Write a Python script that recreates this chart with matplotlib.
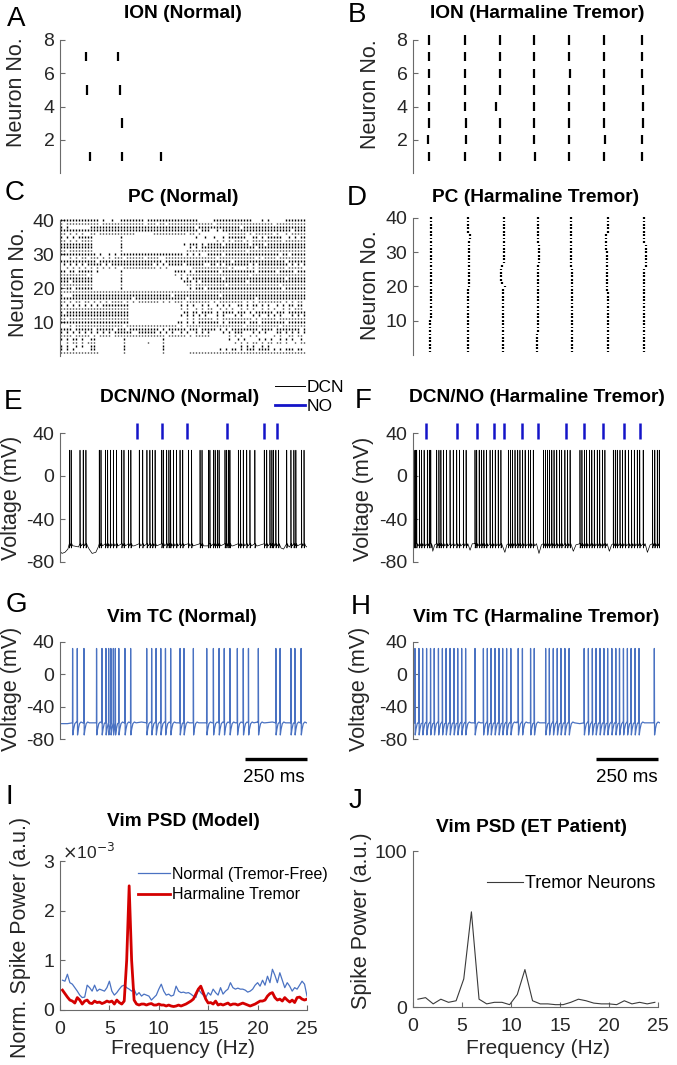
import numpy as np
import matplotlib
matplotlib.use("Agg")
import matplotlib.pyplot as plt
from matplotlib.lines import Line2D

plt.rcParams['font.family'] = ['Liberation Sans', 'DejaVu Sans']
plt.rcParams['axes.unicode_minus'] = False

# ---------------- data (times in ms) ----------------
# A: ION normal, spike times per neuron
A_NEURONS = [7, 5, 3, 1]
A_SPIKES = [[105, 236], [108, 243], [250], [121, 252, 408]]

# B: ION harmaline, neurons 1..8
B_SPIKES = [
    [63, 209, 354, 493, 633, 775, 928],
    [61, 215, 352, 490, 633, 779, 928],
    [66, 216, 354, 491, 633, 775, 931],
    [63, 212, 336, 491, 630, 775, 931],
    [66, 209, 352, 491, 633, 775, 931],
    [66, 212, 352, 491, 636, 775, 928],
    [63, 211, 352, 491, 633, 775, 928],
    [66, 212, 354, 491, 633, 775, 928],
]

# C: PC normal raster, one string per neuron (40 at top), '#' = spike in a 12 ms bin
C_T0, C_DT = 4, 12.15
C_ROWS = [
    "##########" "###.#..#.." "########.#" "##########" "######...." ".#########" "####...#.#" ".....#####" "##",
    "#.########" "###.######" "########.#" "##.##.####" "##########" "#.########" "##########" "#.########" "##",
    "#.#......." "##########" "##########" "##########" "#####.####" "##########" ".#########" "##########" "##",
    "##########" "##########" "##########" "##########" "######.###" "..#.######" "##########" "#######.##" "##",
    "##.#.#.#.." "##.#######" "#####....." ".#########" "##.##.#..." "......####" "##.#.#####" "#.#..#.###" "##",
    "#.#.#.####" "#........." "#........." ".........." ".....#..#." ".#..#.####" "##..##.#.#" "####..#.#." "##",
    "##.#.#.###" "#........." "#........." ".........." ".........." "..#.#.#.##" "#.#.######" "####.#####" "##",
    "##########" "#........." "#........." ".........." ".#.###.#.#" "####.#####" "###.####.#" "##########" "##",
    "##########" "#........." "#........." ".........." "...#.#.###" "##########" "#####.####" "##########" "##",
    "##.#######" "#........." "#........." ".........." "..########" "##########" "##.#######" "##########" "##",
    "##########" "##.#..#.#." "##########" "##########" "#.#.#.#..#" "####.#####" "##########" "###.##.###" "##",
    "...#.#.##." "###.#.#.##" "#.######.#" "###..#####" "##########" "##.#######" "#####.#.##" "##.#######" "##",
    "##########" "##.#######" "##########" "####.#####" "##########" "#######.##" "##########" "#####.####" "##",
    ".#.#.#.#.#" "####.#.###" "##########" "#.#.#.####" "#.######.." "##.#.#####" "###.#.####" "######.#.#" ".#",
    "..#.#.#.#." "#.#.#.#.#." ".#########" "##.#.#...." "....######" "######.#.." "..#.#.####" "#####.####" "#.",
    "##.##.####" "#.#......." "#........." "........##" "##.#.#####" "###.######" "#####.####" "##.#####.#" "##",
    "#########." "#........." "#........." "........#." "#.########" "##########" "###.######" "##########" "##",
    "##########" "#........." "#........." ".........." "#.#.######" "####.#####" "##########" "#####.####" "##",
    "###.######" "#........." "#........." ".........." ".###.#.###" "##########" "##.#######" "##########" "##",
    "##########" "#........." "#........." ".........." "..##.#####" "#####.####" "##########" "###.######" "##",
    "#.##.#####" "#........." "#........." ".........." "...#.###.#" "##########" "##########" "####.#####" "##",
    "##########" "##########" "##########" "##########" "##########" "##########" "##########" "##########" "##",
    "#...######" "##########" "##########" "#######.##" "##########" "###.######" "##########" "##########" "##",
    "##########" "##########" "####.#####" "##########" "##.#######" "##########" "#####.####" "##########" "##",
    "##.#.##.##" ".#.#.#.###" "#.#.#.####" "###.#.#.##" "#.########" ".#.#######" "#.#.#.####" "####.#.#.#" "#.",
    "#.#.#.#.#." "#.#.######" "###......." ".........." "#.#.#..#.#" "..#.#.#..#" "#.#.##.#.#" "..#.#.##.#" "#.",
    "##########" "##########" "###......." ".........." "#.#..#.#.#" "#..#.#.#.." "#.#.#..#.#" ".#..#.#.##" "#.",
    "#.########" "##########" "###......." ".........." ".##.##.###" "#.#.####.#" "##.#.#####" "#.###.####" "##",
    "##########" "##########" "###......." ".........." "#.#.#.#.#." "..#.#...#." "#...#.#..#" ".#.#...#.#" ".#",
    "##.#######" "##########" "###......." ".........." "..#.#.####" "#.#.######" "####.#.###" "##.#######" "##",
    "##########" "##########" "###......." ".........#" "#.#.#.####" "###.#.####" "##.###.###" "#####.####" "##",
    "...#.#####" "##########" "#.########" "#########." "#.########" "##########" "#.########" "###.######" "##",
    "####.#####" "#.######.#" "##.#######" "###.#.####" "##.###.###" "##.#.#.###" "######.###" "#.########" ".#",
    "#.#.#.#.#." "#.#.#.#.##" "####..####" "##.#.#.#.." "#.#..#.#.#" "....#.#.##" "#...#.#.#." "..##.#.#.#" ".#",
    "####.#####" ".#.####.##" "##########" "#####.####" "##.#.#####" "......#.#." "#..#.#...." ".#.#..##.#" "#.",
    "#.#.##.#.." "##........" ".#........" "....#....." ".........." "......#..#" ".#....#.#." "#..#.#.#.." "#.",
    "..#.##.#.#" "##........" ".#.......#" "....#....." ".........." "........#." "#.#.##.#.#" "#.##.#..#." "##",
    "#.#..#.#.." "##........" ".#........" "....#....." ".........." ".........." "#.#.#..#.#" ".........." "..",
    "#.#.#....." "##........" ".#........" "....#....." ".........." "...#.#.##." "#.###.####" ".#.#.###.#" "#.",
    "##########" "###......." ".#........" "....#....." "...#######" "##########" "##########" "##########" "##",
]

# D: PC harmaline, 7 synchronous volleys; (first neuron, last neuron, spike time)
D_VOLLEYS = [
    [(1, 10, 69), (11, 20, 71), (21, 30, 73), (31, 40, 71)],
    [(1, 19, 221), (20, 33, 225), (34, 35, 231), (36, 40, 223)],
    [(1, 19, 365), (20, 20, 372), (21, 21, 360), (22, 25, 355), (26, 26, 361), (27, 40, 368)],
    [(1, 6, 500), (7, 26, 507), (27, 32, 511), (33, 40, 507)],
    [(1, 25, 645), (26, 40, 640)],
    [(1, 18, 788), (19, 30, 785), (31, 35, 781), (36, 40, 790)],
    [(1, 14, 934), (15, 25, 937), (26, 32, 942), (33, 40, 937)],
]

# E / F: DCN spikes, DCN baseline knots (t, mV) and NO spikes
E_DCN_SPIKES = [38, 45, 81, 94, 105, 159, 166, 184, 193, 204, 216, 229, 250, 259, 277, 287,
                321, 335, 352, 364, 375, 385, 412, 418, 432, 441, 448, 459, 472, 486, 497,
                520, 533, 567, 575, 601, 607, 621, 628, 637, 644, 668, 675, 683, 688, 722,
                731, 742, 756, 769, 789, 827, 837, 850, 858, 864, 874, 885, 918, 935, 947,
                955, 978, 988]
E_BASE = [(0, -70), (8, -72), (20, -71), (32, -68), (55, -65), (75, -66), (118, -68),
          (130, -72), (145, -71), (155, -66), (300, -65), (505, -64), (600, -65),
          (700, -65), (800, -65), (895, -67), (905, -68), (930, -66), (999, -66)]
E_NO_SPIKES = [312, 413, 514, 676, 826, 879]

F_DCN_SPIKES = [4, 9, 15, 26, 35, 45, 58, 66, 72,
                96, 105, 113, 123, 136, 150, 163, 177, 188, 204, 215,
                251, 258, 268, 278, 287, 298, 312, 322, 333, 345, 356,
                386, 395, 403, 413, 424, 433, 444, 454, 467, 476, 487,
                528, 536, 544, 552, 562, 571, 582, 593, 602, 615, 626, 636,
                676, 684, 694, 703, 714, 724, 734, 746, 756, 767, 777,
                811, 819, 827, 838, 848, 859, 873, 885, 896, 908, 918, 932,
                970, 979, 989, 997]
F_BASE = [(0, -62), (74, -63), (80, -70), (88, -64), (222, -63), (231, -69), (240, -63),
          (362, -63), (372, -71), (380, -64), (500, -63), (510, -72), (520, -64),
          (640, -63), (649, -70), (660, -64), (786, -63), (795, -70), (804, -64),
          (940, -63), (949, -71), (960, -64), (998, -62)]
F_NO_SPIKES = [53, 177, 259, 327, 370, 442, 507, 618, 692, 768, 854, 918]

# G / H: Vim TC spikes and baseline knots
G_SPIKES = [51, 70, 97, 148, 170, 186, 197, 206, 216, 224, 238, 263, 286, 351, 371, 389,
            408, 427, 448, 486, 502, 540, 594, 621, 644, 665, 688, 718, 742, 763, 803,
            874, 891, 935, 951, 976]
G_BASE = [(4, -61), (30, -61), (300, -60), (330, -59), (560, -60), (780, -60), (800, -59),
          (830, -60), (860, -59), (992, -58)]
H_SPIKES = [8, 24, 39, 55, 71, 86, 103, 119, 134, 150, 166, 181, 197, 213, 251, 285, 301,
            316, 332, 348, 363, 379, 396, 426, 443, 476, 491, 537, 552, 568, 584, 599,
            615, 632, 693, 710, 726, 741, 757, 773, 788, 805, 821, 836, 852, 868, 883,
            899, 915, 977]
H_BASE = [(4, -60), (230, -59), (420, -59), (460, -60), (510, -60), (650, -60),
          (675, -61), (930, -62), (985, -62), (997, -50)]

# I: model PSD (x 1e-3)
I_FREQ = [0.25, 0.5, 0.75, 1.0, 1.25, 1.5, 1.75, 2.0, 2.25, 2.5, 2.75, 3.0, 3.25, 3.5, 3.75,
          4.0, 4.25, 4.5, 4.75, 5.0, 5.25, 5.5, 5.75, 6.0, 6.25, 6.5, 6.75, 7.0, 7.25, 7.5,
          7.75, 8.0, 8.25, 8.5, 8.75, 9.0, 9.25, 9.5, 9.75, 10.0, 10.25, 10.5, 10.75, 11.0,
          11.25, 11.5, 11.75, 12.0, 12.25, 12.5, 12.75, 13.0, 13.25, 13.5, 13.75, 14.0,
          14.25, 14.5, 14.75, 15.0, 15.25, 15.5, 15.75, 16.0, 16.25, 16.5, 16.75, 17.0,
          17.25, 17.5, 17.75, 18.0, 18.25, 18.5, 18.75, 19.0, 19.25, 19.5, 19.75, 20.0,
          20.25, 20.5, 20.75, 21.0, 21.25, 21.5, 21.75, 22.0, 22.25, 22.5, 22.75, 23.0,
          23.25, 23.5, 23.75, 24.0, 24.25, 24.5, 24.75, 25.0]
I_NORMAL = [0.60, 0.58, 0.72, 0.55, 0.52, 0.45, 0.38, 0.30, 0.25, 0.26, 0.50, 0.45, 0.38,
            0.50, 0.38, 0.42, 0.40, 0.38, 0.45, 0.58, 0.38, 0.30, 0.35, 0.42, 0.48, 0.50,
            0.45, 0.42, 0.38, 0.42, 0.30, 0.35, 0.28, 0.32, 0.30, 0.28, 0.20, 0.25, 0.30,
            0.42, 0.52, 0.38, 0.30, 0.32, 0.28, 0.30, 0.48, 0.38, 0.35, 0.36, 0.34, 0.35,
            0.32, 0.28, 0.25, 0.42, 0.35, 0.30, 0.25, 0.35, 0.30, 0.42, 0.35, 0.30, 0.45,
            0.32, 0.38, 0.42, 0.55, 0.45, 0.42, 0.44, 0.42, 0.42, 0.40, 0.36, 0.38, 0.42,
            0.50, 0.55, 0.48, 0.60, 0.50, 0.68, 0.55, 0.82, 0.70, 0.55, 0.75, 0.60, 0.45,
            0.55, 0.48, 0.38, 0.45, 0.42, 0.50, 0.58, 0.52, 0.28]
I_HARMALINE = [0.40, 0.33, 0.26, 0.20, 0.18, 0.14, 0.25, 0.20, 0.12, 0.18, 0.20, 0.14, 0.13,
               0.18, 0.15, 0.16, 0.13, 0.15, 0.18, 0.16, 0.18, 0.12, 0.20, 0.15, 0.12, 0.18,
               1.00, 2.50, 1.00, 0.20, 0.12, 0.10, 0.12, 0.12, 0.10, 0.12, 0.13, 0.10, 0.10,
               0.12, 0.10, 0.10, 0.08, 0.10, 0.08, 0.07, 0.08, 0.10, 0.08, 0.10, 0.12, 0.15,
               0.18, 0.22, 0.32, 0.42, 0.48, 0.35, 0.22, 0.14, 0.15, 0.12, 0.18, 0.10, 0.12,
               0.10, 0.12, 0.14, 0.10, 0.12, 0.12, 0.10, 0.12, 0.14, 0.12, 0.10, 0.08, 0.10,
               0.12, 0.15, 0.18, 0.18, 0.20, 0.28, 0.33, 0.35, 0.25, 0.20, 0.22, 0.18, 0.25,
               0.20, 0.16, 0.20, 0.15, 0.25, 0.26, 0.22, 0.20, 0.22]

# J: ET patient PSD
J_FREQ = [0.5, 1.28, 2.06, 2.84, 3.62, 4.4, 5.18, 5.96, 6.74, 7.52, 8.3, 9.08, 9.86, 10.64,
          11.42, 12.2, 12.98, 13.76, 14.54, 15.32, 16.1, 16.88, 17.66, 18.44, 19.22, 20.0,
          20.78, 21.56, 22.34, 23.12, 23.9, 24.68]
J_POWER = [5, 6, 2, 5, 3, 4, 18, 61, 5, 2, 3, 3, 1.5, 8, 24, 4, 2, 2, 1.5, 1.5, 3, 5, 4,
           2.5, 2, 2, 1.5, 4, 2, 3, 2, 3]

# ---------------- figure ----------------
W, H = 677, 1065
fig = plt.figure(figsize=(W / 100, H / 100), dpi=100)

TICK_COLOR = '#262626'
SPINE_COLOR = '#6a6a6a'
TC_BLUE = '#4a72c2'
NO_BLUE = '#1414c8'


def add_ax(x0, y0, x1, y1):
    return fig.add_axes([x0 / W, 1 - y1 / H, (x1 - x0) / W, (y1 - y0) / H])


def ftext(x, y, s, **kw):
    fig.text(x / W, 1 - y / H, s, **kw)


def style(ax, bottom=False):
    for s in ['top', 'right']:
        ax.spines[s].set_visible(False)
    ax.spines['bottom'].set_visible(bottom)
    for s in ['left', 'bottom']:
        ax.spines[s].set_color(SPINE_COLOR)
        ax.spines[s].set_linewidth(0.8)
    ax.tick_params(direction='in', length=3.5, width=0.8, color=SPINE_COLOR,
                   labelcolor=TICK_COLOR, labelsize=14, pad=4)
    if not bottom:
        ax.set_xticks([])
    ax.patch.set_alpha(0)


def build_trace(spikes, knots, pre_dt, pre_v, peak_v, post):
    spikes = sorted(spikes)
    pts, windows = [], []
    for i, t in enumerate(spikes):
        nxt = spikes[i + 1] if i + 1 < len(spikes) else np.inf
        pts.append((t - pre_dt, pre_v))
        pts.append((t, peak_v))
        end = t
        for dt, v in post:
            if t + dt < nxt - pre_dt:
                pts.append((t + dt, v))
                end = t + dt
        windows.append((t - pre_dt, end))
    for tk, vk in knots:
        if not any(a - 0.5 <= tk <= b + 0.5 for a, b in windows):
            pts.append((tk, vk))
    pts.sort()
    arr = np.array(pts)
    return arr[:, 0], arr[:, 1]


title_kw = dict(fontsize=13.8, fontweight='bold', ha='center', va='center', color='k')
letter_kw = dict(fontsize=20, ha='left', va='center', color='k')
ylab_kw = dict(fontsize=15.5, rotation=90, ha='center', va='center', color=TICK_COLOR)

# A
ax = add_ax(60, 40, 307, 173)
style(ax)
for n, ts in zip(A_NEURONS, A_SPIKES):
    ax.vlines(ts, n - 0.28, n + 0.28, color='k', lw=1.6, clip_on=False)
ax.set_xlim(0, 1000)
ax.set_ylim(0, 8)
ax.set_yticks([2, 4, 6, 8])
ftext(183, 13, 'ION (Normal)', **title_kw)
ftext(7, 19, 'A', **letter_kw)
ftext(17, 92, 'Neuron No.', **ylab_kw)

# B
ax = add_ax(413, 40, 660, 173)
style(ax)
for i, ts in enumerate(B_SPIKES):
    n = i + 1
    ax.vlines(ts, n - 0.28, n + 0.28, color='k', lw=1.6, clip_on=False)
ax.set_xlim(0, 1000)
ax.set_ylim(0, 8)
ax.set_yticks([2, 4, 6, 8])
ftext(537, 13, 'ION (Harmaline Tremor)', **title_kw)
ftext(348, 15, 'B', **letter_kw)
ftext(371, 94, 'Neuron No.', **ylab_kw)

# C
ax = add_ax(60, 220, 307, 356)
style(ax)
for i, row in enumerate(C_ROWS):
    n = 40 - i
    ts = [C_T0 + j * C_DT for j, ch in enumerate(row) if ch == '#']
    ax.vlines(ts, n - 0.24, n + 0.24, color='k', lw=1.0, clip_on=False)
ax.set_xlim(0, 1000)
ax.set_ylim(0, 40)
ax.set_yticks([10, 20, 30, 40])
ftext(183, 198, 'PC (Normal)', **title_kw)
ftext(5, 193, 'C', **letter_kw)
ftext(19, 282, 'Neuron No.', **ylab_kw)

# D
ax = add_ax(413, 218, 660, 355)
style(ax)
for volley in D_VOLLEYS:
    for lo, hi, t in volley:
        ns = np.arange(lo, hi + 1)
        ax.vlines([t] * len(ns), ns - 0.25, ns + 0.25, color='k', lw=1.6, clip_on=False)
ax.set_xlim(0, 1000)
ax.set_ylim(0, 40)
ax.set_yticks([10, 20, 30, 40])
ftext(536, 197, 'PC (Harmaline Tremor)', **title_kw)
ftext(347, 198, 'D', **letter_kw)
ftext(371, 285, 'Neuron No.', **ylab_kw)

# E
dcn_post = [(0.8, -67), (3, -63), (6, -65)]
ax = add_ax(60, 433, 307, 562)
style(ax)
t, v = build_trace(E_DCN_SPIKES, E_BASE, 0.4, -63, 24, dcn_post)
ax.plot(t, v, color='k', lw=0.5)
ax.vlines(E_NO_SPIKES, 34, 49, color=NO_BLUE, lw=1.8, clip_on=False)
ax.set_xlim(0, 1000)
ax.set_ylim(-80, 40)
ax.set_yticks([-80, -40, 0, 40])
leg_handles = [Line2D([], [], color='k', lw=0.7), Line2D([], [], color=NO_BLUE, lw=2)]
ax.legend(leg_handles, ['DCN', 'NO'], loc='center left', bbox_to_anchor=(275 / W, 1 - 397 / H),
          bbox_transform=fig.transFigure, frameon=False, fontsize=12.5, handlelength=1.7,
          handletextpad=0.15, labelspacing=0.25, borderpad=0, borderaxespad=0)
ftext(180, 398, 'DCN/NO (Normal)', **title_kw)
ftext(4, 402, 'E', **letter_kw)
ftext(12, 498, 'Voltage (mV)', **ylab_kw)

# F
ax = add_ax(413, 433, 660, 562)
style(ax)
t, v = build_trace(F_DCN_SPIKES, F_BASE, 0.4, -63, 24, dcn_post)
ax.plot(t, v, color='k', lw=0.5)
ax.vlines(F_NO_SPIKES, 34, 49, color=NO_BLUE, lw=1.8, clip_on=False)
ax.set_xlim(0, 1000)
ax.set_ylim(-80, 40)
ax.set_yticks([-80, -40, 0, 40])
ftext(537, 397, 'DCN/NO (Harmaline Tremor)', **title_kw)
ftext(355, 401, 'F', **letter_kw)
ftext(364, 499, 'Voltage (mV)', **ylab_kw)

# G
tc_post = [(1.0, -75), (4, -68), (9, -61), (15, -59), (22, -60)]
ax = add_ax(60, 642, 307, 739)
style(ax)
t, v = build_trace(G_SPIKES, G_BASE, 0.5, -60, 32, tc_post)
ax.plot(t, v, color=TC_BLUE, lw=0.9)
ax.set_xlim(0, 1000)
ax.set_ylim(-80, 40)
ax.set_yticks([-80, -40, 0, 40])
ax.plot([750, 1000], [-105, -105], color='k', lw=2.4, clip_on=False, solid_capstyle='butt')
ftext(274, 778, '250 ms', fontsize=13.5, ha='center', va='center', color='k')
ftext(182, 617, 'Vim TC (Normal)', **title_kw)
ftext(6, 605, 'G', **letter_kw)
ftext(12, 689, 'Voltage (mV)', **ylab_kw)

# H
ax = add_ax(413, 642, 660, 739)
style(ax)
t, v = build_trace(H_SPIKES, H_BASE, 0.5, -60, 32, tc_post)
ax.plot(t, v, color=TC_BLUE, lw=0.9)
ax.set_xlim(0, 1000)
ax.set_ylim(-80, 40)
ax.set_yticks([-80, -40, 0, 40])
ax.plot([742, 992], [-105, -105], color='k', lw=2.4, clip_on=False, solid_capstyle='butt')
ftext(627, 778, '250 ms', fontsize=13.5, ha='center', va='center', color='k')
ftext(536, 617, 'Vim TC (Harmaline Tremor)', **title_kw)
ftext(351, 607, 'H', **letter_kw)
ftext(360, 689, 'Voltage (mV)', **ylab_kw)

# I
ax = add_ax(60, 861, 307, 1010)
style(ax, bottom=True)
ax.plot(I_FREQ, I_NORMAL, color=TC_BLUE, lw=0.9, label='Normal (Tremor-Free)')
ax.plot(I_FREQ, I_HARMALINE, color='#d40000', lw=2.0, label='Harmaline Tremor')
ax.set_xlim(0, 25)
ax.set_ylim(0, 3)
ax.set_xticks([0, 5, 10, 15, 20, 25])
ax.set_yticks([0, 1, 2, 3])
ax.tick_params(axis='x', pad=8)
ax.legend(loc='center left', bbox_to_anchor=(138 / W, 1 - 884.5 / H),
          bbox_transform=fig.transFigure, frameon=False, fontsize=11.5, handlelength=2.0,
          handletextpad=0.1, labelspacing=0.35, borderpad=0, borderaxespad=0)
ftext(62, 852, r'$\times$10$^{-3}$', fontsize=12.5, ha='left', va='center', color=TICK_COLOR)
ftext(183, 822, 'Vim PSD (Model)', **title_kw)
ftext(6, 797, 'I', **letter_kw)
ftext(21, 937, 'Norm. Spike Power (a.u.)', **ylab_kw)
ftext(183, 1049, 'Frequency (Hz)', fontsize=15, ha='center', va='center', color=TICK_COLOR)

# J
ax = add_ax(413, 851, 658, 1007)
style(ax, bottom=True)
ax.plot(J_FREQ, J_POWER, color='#3a3a3a', lw=0.8, label='Tremor Neurons')
ax.set_xlim(0, 25)
ax.set_ylim(0, 100)
ax.set_xticks([0, 5, 10, 15, 20, 25])
ax.set_yticks([0, 100])
ax.tick_params(axis='x', pad=8)
ax.legend(loc='center left', bbox_to_anchor=(487 / W, 1 - 884 / H),
          bbox_transform=fig.transFigure, frameon=False, fontsize=13, handlelength=2.0,
          handletextpad=0.1, borderpad=0, borderaxespad=0)
ftext(532, 827, 'Vim PSD (ET Patient)', **title_kw)
ftext(349, 801, 'J', **letter_kw)
ftext(361, 921, 'Spike Power (a.u.)', **ylab_kw)
ftext(538, 1049, 'Frequency (Hz)', fontsize=15, ha='center', va='center', color=TICK_COLOR)

fig.savefig('out.png', dpi=100)
